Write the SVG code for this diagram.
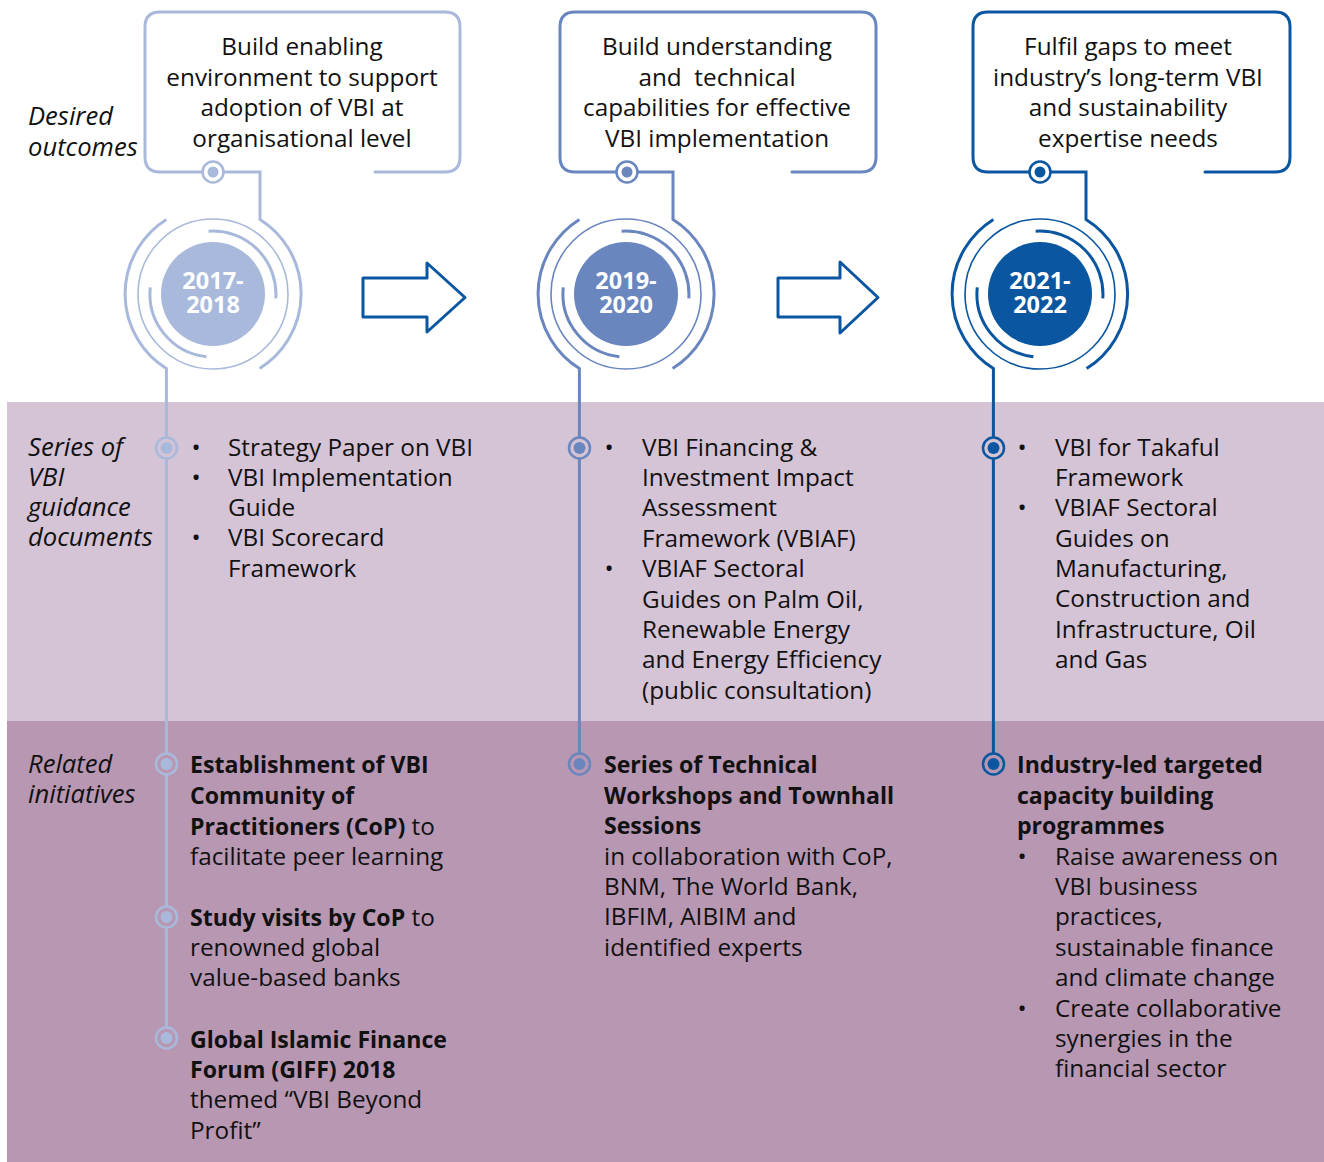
<svg xmlns="http://www.w3.org/2000/svg" width="1324" height="1162" viewBox="0 0 1324 1162">
<style>
text{font-family:"Open Sans","Noto Sans","DejaVu Sans",sans-serif;font-size:24.3px;fill:#111}
.c{text-anchor:middle}
.i{font-style:italic;font-size:25.6px}
.b{font-weight:bold;font-size:23.1px}
.yr{font-weight:bold;fill:#fff;text-anchor:middle;font-size:23.5px}
.bx{fill:none;stroke-width:3;stroke-linecap:round;stroke-linejoin:round}
.ln{fill:none;stroke-width:3}
.thin{fill:none;stroke-width:1.6}
.l1{stroke:#A9B9DB}.f1{fill:#A9B9DB}
.l2{stroke:#6A86BE}.f2{fill:#6A86BE}
.l3{stroke:#0A56A0}.f3{fill:#0A56A0}
.arr{fill:#fff;stroke:#0A56A0;stroke-width:3;stroke-linejoin:round}
</style>
<rect x="7" y="402" width="1317" height="319" fill="#D5C3D6"/>
<rect x="7" y="721" width="1317" height="441" fill="#B897B3"/>

<g id="labels">
<text class="i" x="28" y="125">Desired</text>
<text class="i" x="28" y="156">outcomes</text>
<text class="i" x="28" y="456">Series of</text>
<text class="i" x="28" y="486">VBI</text>
<text class="i" x="28" y="516">guidance</text>
<text class="i" x="28" y="546">documents</text>
<text class="i" x="28" y="773">Related</text>
<text class="i" x="28" y="803">initiatives</text>
</g>

<g id="connectors">
<path class="ln l1" d="M223.5,172 H260 V219.4 A88,88 0 0 1 259.6,368.6"/>
<path class="ln l1" d="M166.4,219.4 A88,88 0 0 0 166.4,368.6 V1038"/>
<path class="ln l2" d="M637.5,172 H673 V219.4 A88,88 0 0 1 672.6,368.6"/>
<path class="ln l2" d="M579.4,219.4 A88,88 0 0 0 579.4,368.6 V764"/>
<path class="ln l3" d="M1050.5,172 H1086 V219.4 A88,88 0 0 1 1086.6,368.6"/>
<path class="ln l3" d="M993.4,219.4 A88,88 0 0 0 993.4,368.6 V764"/>
</g>

<g id="outcome1">
<path class="bx l1" d="M202.5,172 H160 Q145,172 145,157 V27 Q145,12 160,12 H445 Q460,12 460,27 V157 Q460,172 445,172 H375"/>
<circle cx="213" cy="172" r="10.5" fill="#fff" class="l1" stroke-width="2.5"/>
<circle cx="213" cy="172" r="5.5" class="f1"/>
<text class="c" x="302" y="55">Build enabling</text>
<text class="c" x="302" y="85.5">environment to support</text>
<text class="c" x="302" y="116">adoption of VBI at</text>
<text class="c" x="302" y="146.5">organisational level</text>
</g>

<g id="outcome2">
<path class="bx l2" d="M616.5,172 H575 Q560,172 560,157 V27 Q560,12 575,12 H861 Q876,12 876,27 V157 Q876,172 861,172 H792"/>
<circle cx="627" cy="172" r="10.5" fill="#fff" class="l2" stroke-width="2.5"/>
<circle cx="627" cy="172" r="5.5" class="f2"/>
<text class="c" x="717" y="55">Build understanding</text>
<text class="c" x="717" y="85.5" xml:space="preserve">and  technical</text>
<text class="c" x="717" y="116">capabilities for effective</text>
<text class="c" x="717" y="146.5">VBI implementation</text>
</g>

<g id="outcome3">
<path class="bx l3" d="M1029.5,172 H988 Q973,172 973,157 V27 Q973,12 988,12 H1275 Q1290,12 1290,27 V157 Q1290,172 1275,172 H1205"/>
<circle cx="1040" cy="172" r="10.5" fill="#fff" class="l3" stroke-width="2.5"/>
<circle cx="1040" cy="172" r="5.5" class="f3"/>
<text class="c" x="1128" y="55">Fulfil gaps to meet</text>
<text class="c" x="1128" y="85.5">industry’s long-term VBI</text>
<text class="c" x="1128" y="116">and sustainability</text>
<text class="c" x="1128" y="146.5">expertise needs</text>
</g>

<g id="year1">
<circle class="thin l1" cx="213" cy="294" r="75"/>
<path class="ln l1" d="M208.6,231.2 A63,63 0 0 1 275.8,298.4 M206.4,356.7 A63,63 0 0 1 150.3,287.4"/>
<circle class="f1" cx="213" cy="294" r="52"/>
<text class="yr" x="213" y="288.5">2017-</text>
<text class="yr" x="213" y="313">2018</text>
</g>
<g id="year2">
<circle class="thin l2" cx="626" cy="294" r="75"/>
<path class="ln l2" d="M621.6,231.2 A63,63 0 0 1 688.8,298.4 M619.4,356.7 A63,63 0 0 1 563.3,287.4"/>
<circle class="f2" cx="626" cy="294" r="52"/>
<text class="yr" x="626" y="288.5">2019-</text>
<text class="yr" x="626" y="313">2020</text>
</g>
<g id="year3">
<circle class="thin l3" cx="1040" cy="294" r="75"/>
<path class="ln l3" d="M1035.6,231.2 A63,63 0 0 1 1102.8,298.4 M1033.4,356.7 A63,63 0 0 1 977.3,287.4"/>
<circle class="f3" cx="1040" cy="294" r="52"/>
<text class="yr" x="1040" y="288.5">2021-</text>
<text class="yr" x="1040" y="313">2022</text>
</g>

<g id="arrow1"><path class="arr" d="M363,278 H427 V263 L465,297.5 L427,332 V317 H363 Z"/></g>
<g id="arrow2"><path class="arr" d="M778,278 H840 V262 L878,297.5 L840,333 V317 H778 Z"/></g>

<g id="markers">
<circle cx="166.5" cy="448" r="10.5" fill="#D5C3D6" class="l1" stroke-width="2.5"/><circle cx="166.5" cy="448" r="6" class="f1"/>
<circle cx="579.5" cy="448" r="10.5" fill="#D5C3D6" class="l2" stroke-width="2.5"/><circle cx="579.5" cy="448" r="6" class="f2"/>
<circle cx="993.5" cy="448" r="10.5" fill="#D5C3D6" class="l3" stroke-width="2.5"/><circle cx="993.5" cy="448" r="6" class="f3"/>
<circle cx="166.5" cy="764" r="10.5" fill="#B897B3" class="l1" stroke-width="2.5"/><circle cx="166.5" cy="764" r="6" class="f1"/>
<circle cx="166.5" cy="917" r="10.5" fill="#B897B3" class="l1" stroke-width="2.5"/><circle cx="166.5" cy="917" r="6" class="f1"/>
<circle cx="166.5" cy="1038" r="10.5" fill="#B897B3" class="l1" stroke-width="2.5"/><circle cx="166.5" cy="1038" r="6" class="f1"/>
<circle cx="579.5" cy="764" r="10.5" fill="#B897B3" class="l2" stroke-width="2.5"/><circle cx="579.5" cy="764" r="6" class="f2"/>
<circle cx="993.5" cy="764" r="10.5" fill="#B897B3" class="l3" stroke-width="2.5"/><circle cx="993.5" cy="764" r="6" class="f3"/>
</g>

<g id="docs1">
<text class="c" x="196" y="456">•</text>
<text x="228" y="456">Strategy Paper on VBI</text>
<text class="c" x="196" y="486">•</text>
<text x="228" y="486">VBI Implementation</text>
<text x="228" y="516">Guide</text>
<text class="c" x="196" y="546">•</text>
<text x="228" y="546">VBI Scorecard</text>
<text x="228" y="577">Framework</text>
</g>

<g id="docs2">
<text class="c" x="609" y="456">•</text>
<text x="642" y="456">VBI Financing &amp;</text>
<text x="642" y="486">Investment Impact</text>
<text x="642" y="516">Assessment</text>
<text x="642" y="547">Framework (VBIAF)</text>
<text class="c" x="609" y="577">•</text>
<text x="642" y="577">VBIAF Sectoral</text>
<text x="642" y="608">Guides on Palm Oil,</text>
<text x="642" y="638">Renewable Energy</text>
<text x="642" y="668">and Energy Efficiency</text>
<text x="642" y="699">(public consultation)</text>
</g>

<g id="docs3">
<text class="c" x="1022" y="456">•</text>
<text x="1055" y="456">VBI for Takaful</text>
<text x="1055" y="486">Framework</text>
<text class="c" x="1022" y="516">•</text>
<text x="1055" y="516">VBIAF Sectoral</text>
<text x="1055" y="547">Guides on</text>
<text x="1055" y="577">Manufacturing,</text>
<text x="1055" y="607">Construction and</text>
<text x="1055" y="638">Infrastructure, Oil</text>
<text x="1055" y="668">and Gas</text>
</g>

<g id="init1">
<text class="b" x="190" y="773">Establishment of VBI</text>
<text class="b" x="190" y="804">Community of</text>
<text x="190" y="835"><tspan class="b">Practitioners (CoP)</tspan> to</text>
<text x="190" y="865">facilitate peer learning</text>
<text x="190" y="926"><tspan class="b">Study visits by CoP</tspan> to</text>
<text x="190" y="956">renowned global</text>
<text x="190" y="986">value-based banks</text>
<text class="b" x="190" y="1048">Global Islamic Finance</text>
<text class="b" x="190" y="1078">Forum (GIFF) 2018</text>
<text x="190" y="1108">themed “VBI Beyond</text>
<text x="190" y="1139">Profit”</text>
</g>

<g id="init2">
<text class="b" x="604" y="773">Series of Technical</text>
<text class="b" x="604" y="804">Workshops and Townhall</text>
<text class="b" x="604" y="834">Sessions</text>
<text x="604" y="865">in collaboration with CoP,</text>
<text x="604" y="895">BNM, The World Bank,</text>
<text x="604" y="925">IBFIM, AIBIM and</text>
<text x="604" y="956">identified experts</text>
</g>

<g id="init3">
<text class="b" x="1017" y="773">Industry-led targeted</text>
<text class="b" x="1017" y="804">capacity building</text>
<text class="b" x="1017" y="834">programmes</text>
<text class="c" x="1022" y="865">•</text>
<text x="1055" y="865">Raise awareness on</text>
<text x="1055" y="895">VBI business</text>
<text x="1055" y="925">practices,</text>
<text x="1055" y="956">sustainable finance</text>
<text x="1055" y="986">and climate change</text>
<text class="c" x="1022" y="1017">•</text>
<text x="1055" y="1017">Create collaborative</text>
<text x="1055" y="1047">synergies in the</text>
<text x="1055" y="1077">financial sector</text>
</g>
</svg>
